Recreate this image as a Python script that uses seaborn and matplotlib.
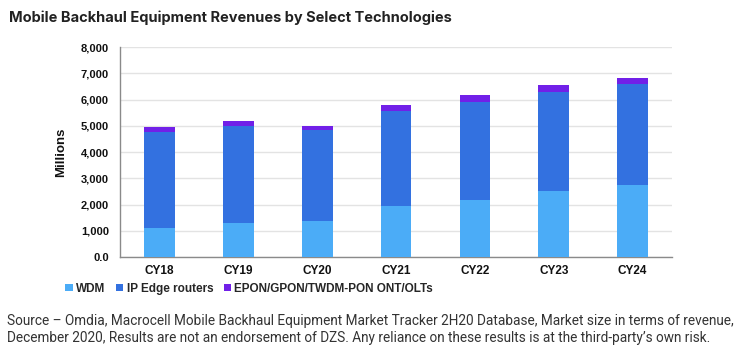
import matplotlib
matplotlib.use("Agg")
import matplotlib.pyplot as plt
from matplotlib.patches import Patch
import seaborn as sns
import pandas as pd
import numpy as np

years = ["CY18", "CY19", "CY20", "CY21", "CY22", "CY23", "CY24"]
wdm = [1120, 1290, 1360, 1940, 2190, 2500, 2760]
ip_edge = [3660, 3710, 3490, 3610, 3700, 3770, 3830]
epon = [170, 190, 140, 250, 270, 270, 240]
series_names = ["WDM", "IP Edge routers", "EPON/GPON/TWDM-PON ONT/OLTs"]
colors = ["#4BACF7", "#3371E0", "#7120E8"]
yticks = [0, 1000, 2000, 3000, 4000, 5000, 6000, 7000, 8000]
ytick_labels = ["0.0", "1,000", "2,000", "3,000", "4,000", "5,000", "6,000", "7,000", "8,000"]

sns.set_theme(style="white")
plt.rcParams["font.family"] = ["Liberation Sans", "DejaVu Sans"]

df = pd.DataFrame({"year": years, "wdm": wdm, "ip": ip_edge, "epon": epon})
df["c2"] = df["wdm"] + df["ip"]
df["c3"] = df["c2"] + df["epon"]

fig = plt.figure(figsize=(7.41, 3.62), dpi=100)
ax = fig.add_axes([0.162, 0.29, 0.745, 0.58])

for col, c in zip(["c3", "c2", "wdm"], colors[::-1]):
    sns.barplot(data=df, x="year", y=col, color=c, width=0.39, ax=ax,
                saturation=1, linewidth=0, zorder=3)

ax.set_xlim(-0.5, 6.5)
ax.set_ylim(0, 8000)
ax.set_yticks(yticks)
ax.set_yticklabels(ytick_labels, fontsize=8, fontweight="bold", color="#111111")
ax.set_xticks(range(len(years)))
ax.set_xticklabels(years, fontsize=8.5, fontweight="bold", color="#111111")
ax.set_xlabel("")
ax.set_ylabel("Millions", fontsize=9.5, fontweight="bold", color="#111111", labelpad=10)
ax.grid(axis="y", color="#E3E3E3", linewidth=1, zorder=0)
ax.set_axisbelow(True)
for s in ["top", "right"]:
    ax.spines[s].set_visible(False)
for s in ["left", "bottom"]:
    ax.spines[s].set_color("#8A8A8A")
    ax.spines[s].set_linewidth(1)
ax.tick_params(axis="y", length=0, pad=8)
ax.tick_params(axis="x", length=0, pad=6)

handles = [Patch(facecolor=c, edgecolor="none") for c in colors]
fig.legend(handles, series_names, loc="center left", bbox_to_anchor=(0.082, 0.203),
           ncol=3, frameon=False, handlelength=0.6, handleheight=0.6,
           handletextpad=0.3, columnspacing=0.9, borderaxespad=0,
           prop={"size": 8.5, "weight": "bold"})

fig.text(0.012, 0.952, "Mobile Backhaul Equipment Revenues by Select Technologies",
         fontsize=10.5, fontweight="bold", color="#222222", family=["Inter", "DejaVu Sans"],
         va="center", ha="left")

footer = ("Source \u2013 Omdia, Macrocell Mobile Backhaul Equipment Market Tracker 2H20 Database, Market size in terms of revenue,\n"
          "December 2020, Results are not an endorsement of DZS. Any reliance on these results is at the third-party\u2019s own risk.")
fig.text(0.01, 0.09, footer, fontsize=9.8, color="#333333", family=["Roboto", "DejaVu Sans"],
         va="center", ha="left", linespacing=1.25)

fig.savefig("out.png", dpi=100, facecolor="white")
